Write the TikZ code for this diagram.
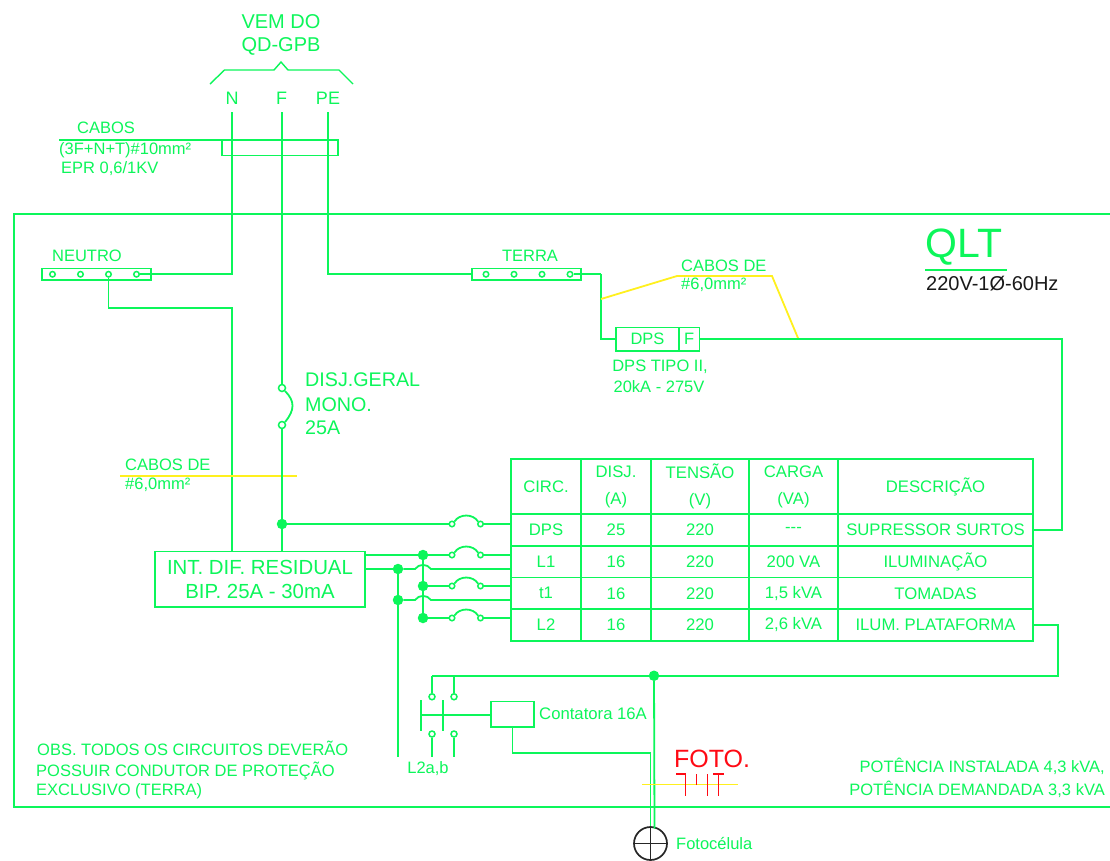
\documentclass[tikz,border=0pt]{standalone}
\usepackage{fontspec}
\setmainfont{Liberation Sans}
\definecolor{linegreen}{HTML}{0CF65A}
\definecolor{cableyellow}{HTML}{FFF01E}
\definecolor{fotored}{HTML}{FF0A14}
\newcommand{\fs}[1]{\fontsize{#1}{#1}\selectfont}
\tikzset{
    wire/.style = {draw=linegreen, line width=1.8},
    cable/.style = {draw=cableyellow, line width=1.8},
    lbl/.style = {inner sep=0, text=linegreen, font=\fs{16.5}},
    big/.style = {inner sep=0, text=linegreen, font=\fs{19.7}},
    term/.style = {shape=circle, draw=linegreen, line width=1.5, fill=white,
        inner sep=0, minimum size=5.5},
    dot/.style = {shape=circle, fill=linegreen, inner sep=0, minimum size=10.5},
    strip/.style = {draw=linegreen, line width=1.8, inner sep=0, outer sep=0,
        minimum width=109, minimum height=11.5},
    cell/.style = {draw=linegreen, line width=1.8, inner sep=0, outer sep=0, text=linegreen,
        align=center, font=\fontsize{16.7}{27}\selectfont},
    box/.style = {draw=linegreen, line width=1.8, inner sep=0, outer sep=0, text=linegreen,
        align=center}
}
\begin{document}
\begin{tikzpicture}[x=1pt,y=-1pt]
    \useasboundingbox (0,0) rectangle (1110,860);
    \fill[white] (0,0) rectangle (1110,860);

    % panel
    \draw[wire] (1110,214) -- (14,214) -- (14,807) -- (1110,807);

    % incoming cables
    \node[lbl,font=\fs{20}] (vem) at (281,22) {VEM DO};
    \node[lbl,font=\fs{20}] (qd) at (281,46) {QD-GPB};
    \draw[wire,line width=1.4] (210,84) -- (224.5,70) -- (274,70) -- (281,62)
        -- (288,70) -- (339,70) -- (353,84);
    \node[lbl,font=\fs{18}] (n) at (232,98) {N};
    \node[lbl,font=\fs{18}] (f) at (281.5,98) {F};
    \node[lbl,font=\fs{18}] (pe) at (328,98) {PE};
    \coordinate (ntop) at (232,112);
    \coordinate (ftop) at (282,112);
    \coordinate (petop) at (328,112);
    \node[lbl,anchor=west] (cabos) at (77,128) {CABOS};
    \node[lbl,anchor=west] (secao) at (59,150) {(3F+N+T)\#10mm²};
    \node[lbl,anchor=west] (epr) at (61,169) {EPR 0,6/1KV};
    \node[box,minimum width=116,minimum height=15.5] (bundle) at (280,147.75) {};
    \coordinate (bundlel) at (59,140);
    \draw[wire] (bundlel) -- (bundle.north west);

    % neutro
    \node[lbl] (neutro) at (87,256) {NEUTRO};
    \node[strip] (nbar) at (96.5,274.25) {};
    \foreach \i/\x in {1/52.5,2/80.5,3/108.5,4/136.5}
        \node[term] (nt\i) at (\x,274.25) {};
    \draw[wire] (nt4) -| (ntop);
    \coordinate (ncorner) at (232,308);
    \coordinate (nin) at (232,551.5);
    \draw[wire] (nt3) |- (ncorner) -- (nin);

    % terra
    \node[lbl] (terra) at (530,256) {TERRA};
    \node[strip] (tbar) at (526.5,274.25) {};
    \foreach \i/\x in {1/486,2/514,3/542,4/570}
        \node[term] (tt\i) at (\x,274.25) {};
    \draw[wire] (petop) |- (tbar.west);
    \coordinate (tcorner) at (601,274.25);
    \draw[wire] (tt4) -- (tcorner);

    % dps
    \node[box,font=\fs{16.5},minimum width=63,minimum height=23.5] (dps) at (647.5,339.25) {DPS};
    \node[box,font=\fs{16.5},minimum width=20.5,minimum height=23.5] (dpsf) at (689.25,339.25) {F};
    \draw[wire] (tcorner) |- (dps.west);
    \node[lbl] (dpst) at (660,367) {DPS TIPO II,};
    \node[lbl] (dpsk) at (659,387) {20kA - 275V};
    \coordinate (cya) at (601,299);
    \coordinate (cyb) at (677,276);
    \coordinate (cyc) at (772,276);
    \coordinate (cyd) at (798.5,339.25);
    \draw[cable] (cya) -- (cyb) -- (cyc) -- (cyd);
    \node[lbl,anchor=west] (cdpsa) at (681,266) {CABOS DE};
    \node[lbl,anchor=west] (cdpsb) at (681,285) {\#6,0mm²};

    % title
    \node[lbl,anchor=west,font=\fs{41}] (qlt) at (925.5,247) {QLT};
    \coordinate (qlta) at (925,270);
    \coordinate (qltb) at (1007,270);
    \draw[wire] (qlta) -- (qltb);
    \node[lbl,anchor=west,text=black!90,font=\fs{20}] (tensao) at (926,284) {220V-1Ø-60Hz};

    % disjuntor geral
    \node[term,minimum size=7] (dga) at (282,388) {};
    \node[term,minimum size=7] (dgb) at (282,425) {};
    \draw[wire] (ftop) -- (dga);
    \draw[wire] (dga.south east) .. controls +(10,10) and +(10,-12) .. (dgb.north east);
    \node[big,anchor=west] (dgt) at (305,380) {DISJ.GERAL};
    \node[big,anchor=west] (dgm) at (305,405) {MONO.};
    \node[big,anchor=west] (dga25) at (305,428) {25A};
    \node[lbl,anchor=west] (cdga) at (125,465) {CABOS DE};
    \node[lbl,anchor=west] (cdgb) at (125,485) {\#6,0mm²};
    \coordinate (cdgl) at (120,476);
    \coordinate (cdgr) at (297,476);
    \draw[cable] (cdgl) -- (cdgr);

    % residual
    \node[box,font=\fs{20.4},minimum width=210,minimum height=55.5] (idr) at (260,579.25)
        {INT. DIF. RESIDUAL\\[3.5pt]BIP. 25A - 30mA};
    \node[dot] (fdot) at (282,524) {};
    \coordinate (fin) at (282,551.5);
    \draw[wire] (dgb) -- (fin);

    % circuit table
    \node[cell,minimum width=70,minimum height=55] (hcirc) at (546,486.5) {CIRC.};
    \node[cell,minimum width=70,minimum height=55] (hdisj) at (616,486.5) {DISJ.\\(A)};
    \node[cell,minimum width=98,minimum height=55] (hten) at (700,486.5) {TENSÃO\\(V)};
    \node[cell,minimum width=89,minimum height=55] (hcar) at (793.5,486.5) {CARGA\\(VA)};
    \node[cell,minimum width=195,minimum height=55] (hdes) at (935.5,486.5) {DESCRIÇÃO};
    \foreach \r/\y/\h/\c/\d/\q/\t in {
        dps/530/32/DPS/25/-{}-{}-/SUPRESSOR SURTOS,
        lum/561.75/31.5/L1/16/200 VA/ILUMINAÇÃO,
        tom/593.25/31.5/t1/16/{1,5 kVA}/TOMADAS,
        pla/625/32/L2/16/{2,6 kVA}/ILUM. PLATAFORMA} {
        \node[cell,minimum width=70,minimum height=\h] (c\r) at (546,\y) {\c};
        \node[cell,minimum width=70,minimum height=\h] (i\r) at (616,\y) {\d};
        \node[cell,minimum width=98,minimum height=\h] (v\r) at (700,\y) {220};
        \node[cell,minimum width=89,minimum height=\h] (q\r) at (793.5,\y) {\q};
        \node[cell,minimum width=195,minimum height=\h] (d\r) at (935.5,\y) {\t};
    }

    % breakers
    \foreach \r/\y in {dps/524,lum/555,tom/586,pla/618} {
        \node[term] (\r a) at (452,\y) {};
        \node[term] (\r b) at (480.5,\y) {};
        \draw[wire] (\r a.north east) .. controls +(5,-8) and +(-5,-8) .. (\r b.north west);
        \draw[wire] (\r b) -- (\r b -| c\r.west);
    }
    \draw[wire] (fdot) -- (dpsa);
    \coordinate (idrup) at (365,555);
    \node[dot] (busa) at (423,555) {};
    \node[dot] (busb) at (423,586) {};
    \node[dot] (busc) at (423,618) {};
    \draw[wire] (idrup) -- (busa) -- (luma);
    \draw[wire] (busa) -- (busc);
    \draw[wire] (busb) -- (toma);
    \draw[wire] (busc) -- (plaa);
    \coordinate (idrlo) at (365,569);
    \node[dot] (neua) at (398,569) {};
    \node[dot] (neub) at (398,600) {};
    \coordinate (neuend) at (398,757);
    \draw[wire] (idrlo) -- (neua);
    \draw[wire] (neua) -- (neuend);
    \foreach \n/\r/\y in {neua/lum/569,neub/tom/600} {
        \coordinate (\n l) at (415,\y);
        \coordinate (\n r) at (431,\y);
        \draw[wire] (\n) -- (\n l) .. controls +(4,-5.5) and +(-4,-5.5) .. (\n r)
            -- (\n r -| c\r.west);
    }

    % supply to the surge protection
    \coordinate (rgt) at (1062,530);
    \draw[wire] (dpsf.east) -| (rgt) -- (ddps.east);

    % contactor
    \coordinate (busr) at (1058,675.75);
    \coordinate (busl) at (432,675.75);
    \node[dot] (fdotb) at (654,675.75) {};
    \draw[wire] (dpla.east) -| (busr) -- (busl);
    \node[term,minimum size=6] (ka) at (432,696.75) {};
    \node[term,minimum size=6] (kb) at (454,696.75) {};
    \node[term,minimum size=6] (kc) at (432,734) {};
    \node[term,minimum size=6] (kd) at (454,734) {};
    \draw[wire] (busl) -- (ka);
    \draw[wire] (kb |- busl) -- (kb);
    \coordinate (kcend) at (432,757);
    \coordinate (kdend) at (454,757);
    \draw[wire] (kc) -- (kcend);
    \draw[wire] (kd) -- (kdend);
    \coordinate (bara) at (421,700);
    \coordinate (barb) at (421,731);
    \coordinate (barc) at (443,700);
    \coordinate (bard) at (443,731);
    \draw[wire] (bara) -- (barb);
    \draw[wire] (barc) -- (bard);
    \node[box,minimum width=43,minimum height=25.5] (coil) at (512.5,714.25) {};
    \coordinate (barm) at (421,715);
    \draw[wire] (barm) -- (barm -| coil.west);
    \node[lbl,anchor=west,font=\fs{16.7}] (cont) at (539,714) {Contatora 16A};
    \node[lbl] (l2ab) at (428,769) {L2a,b};

    % photocell
    \node[shape=circle,draw=black!85,line width=1.7,inner sep=0,minimum size=33] (foto) at (650.5,843.5) {};
    \draw[black!85,line width=1.7] (foto.north) -- (foto.south);
    \draw[black!85,line width=1.7] (foto.west) -- (foto.east);
    \coordinate (coilturn) at (650.5,753);
    \draw[wire] (coil.south) |- (coilturn) -- (foto.north);
    \coordinate (fotoin) at (654.5,828.5);
    \draw[wire] (fdotb) -- (fotoin);
    \node[lbl,anchor=west,font=\fs{16.5}] (fotol) at (676,843) {Fotocélula};
    \node[inner sep=0,text=fotored,font=\fs{25}] (fotot) at (712,759) {FOTO.};
    \coordinate (fya) at (642,784.5);
    \coordinate (fyb) at (738,784.5);
    \draw[cable] (fya) -- (fyb);
    \draw[fotored,line width=1.5] (676,774) -- (685.5,774) -- (685.5,796);
    \draw[fotored,line width=1.5] (696.5,774) -- (696.5,785);
    \draw[fotored,line width=1.5] (707.5,774) -- (707.5,796);
    \draw[fotored,line width=1.5] (713,774) -- (723.5,774);
    \draw[fotored,line width=1.5] (718.5,774) -- (718.5,796);

    % notes
    \node[lbl,anchor=west] (obsa) at (37,748) {OBS. TODOS OS CIRCUITOS DEVERÃO};
    \node[lbl,anchor=west] (obsb) at (36,771) {POSSUIR CONDUTOR DE PROTEÇÃO};
    \node[lbl,anchor=west] (obsc) at (36,791) {EXCLUSIVO (TERRA)};
    \node[lbl,anchor=east] (pota) at (1105,766) {POTÊNCIA INSTALADA 4,3 kVA,};
    \node[lbl,anchor=east] (potb) at (1105,789) {POTÊNCIA DEMANDADA 3,3 kVA};
\end{tikzpicture}
\end{document}
